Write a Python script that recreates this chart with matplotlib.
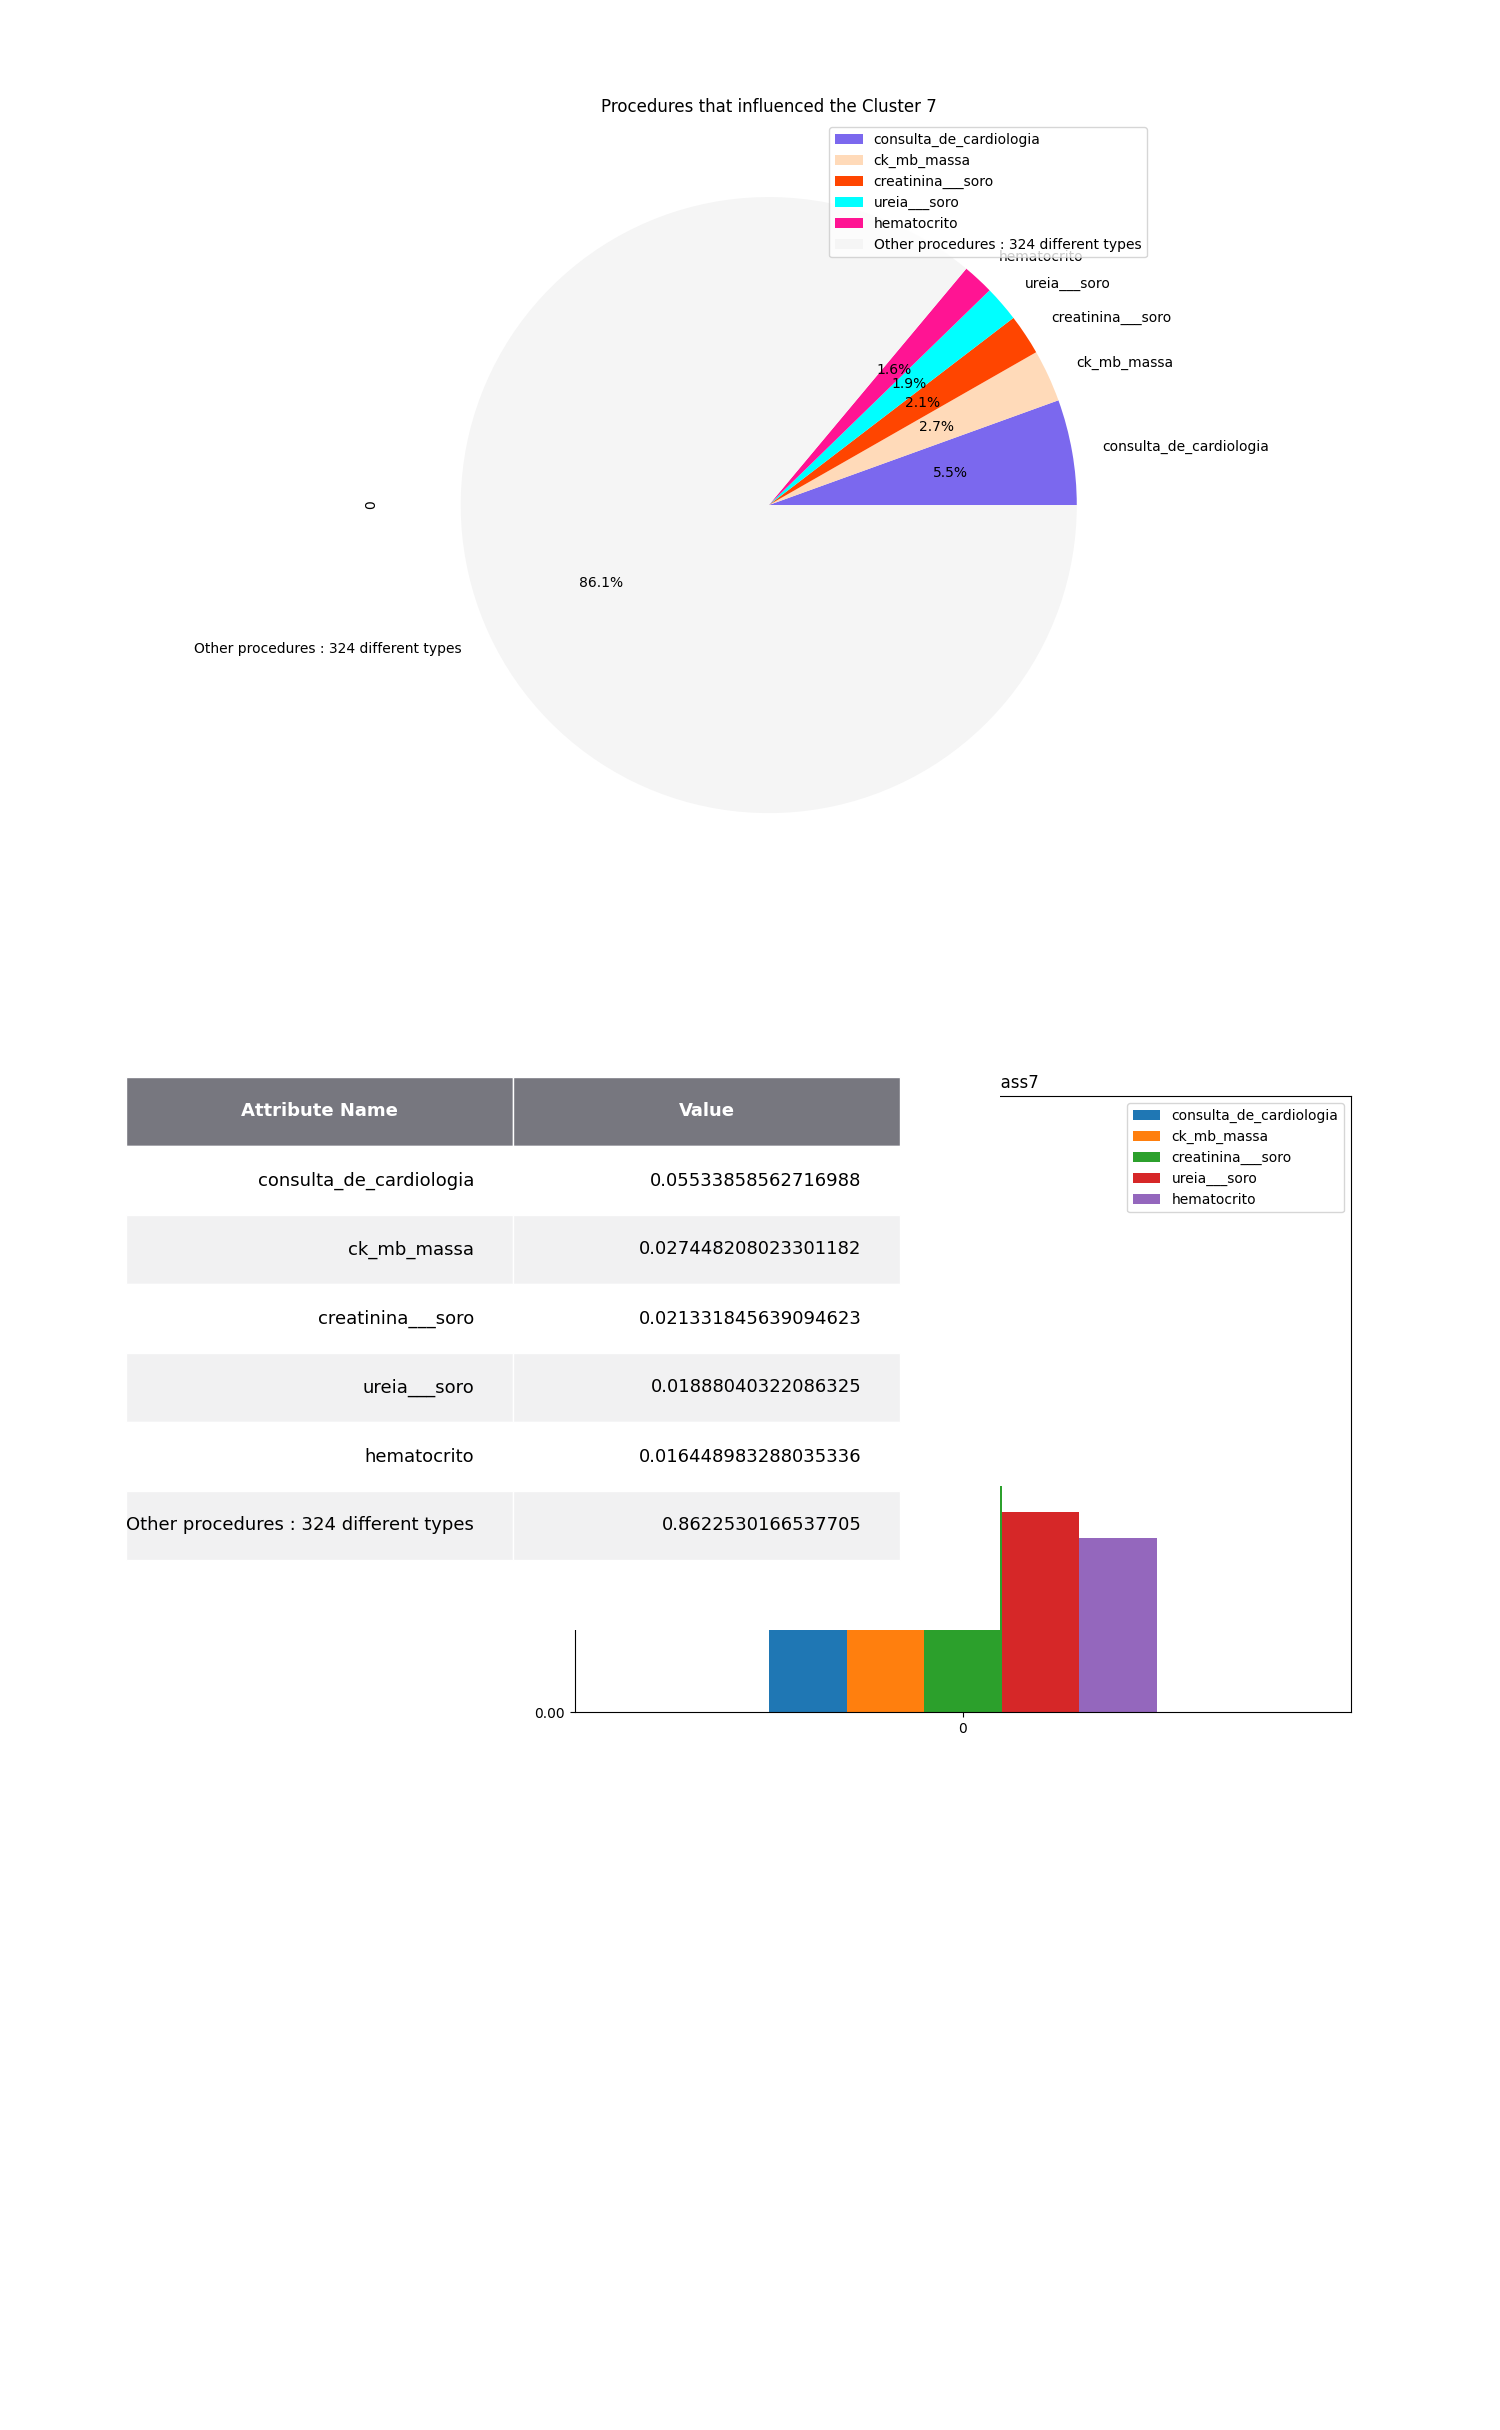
import numpy as np
import matplotlib
matplotlib.use("Agg")
import matplotlib.pyplot as plt
from matplotlib import font_manager

# cluster 7 - procedure shares
procedures = ["consulta_de_cardiologia", "ck_mb_massa", "creatinina___soro",
              "ureia___soro", "hematocrito", "Other procedures : 324 different types"]
shares = [0.05533858562716988, 0.027448208023301182, 0.021331845639094623,
          0.01888040322086325, 0.016448983288035336, 0.8622530166537705]
pie_colors = ["mediumslateblue", "peachpuff", "orangered", "cyan", "deeppink", "whitesmoke"]

top_attrs = procedures[:5]
top_values = shares[:5]

table_header = ["Attribute Name", "Value"]
header_color = "#77777f"
row_colors = ["#f1f1f2", "w"]

names = {f.name for f in font_manager.fontManager.ttflist}
if "Liberation Sans Narrow" in names:
    table_font, table_size = "Liberation Sans Narrow", 18
else:
    table_font, table_size = "DejaVu Sans", 13

fig = plt.figure(figsize=(15, 24.3), dpi=100)

# pie
ax1 = fig.add_axes([0.125, 0.6337, 0.775, 0.3169])
wedges, texts, autotexts = ax1.pie(shares, labels=procedures, colors=pie_colors,
                                   autopct="%1.1f%%")
ax1.set_aspect("equal")
ax1.set_ylabel("0")
ax1.set_title("Procedures that influenced the Cluster 7")
ax1.legend(wedges, procedures, loc="upper right")

# bars
ax2 = fig.add_axes([0.3833, 1 - 1712 / 2430, 0.5173, 616 / 2430])
n = len(top_values)
w = 0.5 / n
for i, (name, v) in enumerate(zip(top_attrs, top_values)):
    ax2.bar(-0.25 + w / 2 + i * w, v, width=w, color="C%d" % i, label=name)
ax2.set_xlim(-0.5, 0.5)
ax2.set_xticks([0])
ax2.set_xticklabels(["0"])
ax2.set_title("Attribute of class7")
ax2.legend(loc="upper right")

# table (drawn on a white panel over the bar chart)
ax3 = fig.add_axes([100 / 1500, 1 - 1630 / 2430, 900 / 1500, 590 / 2430])
ax3.set_facecolor("white")
ax3.set_xticks([])
ax3.set_yticks([])
for s in ax3.spines.values():
    s.set_visible(False)

cell_text = [[p, repr(float(v))] for p, v in zip(procedures, shares)]
tab = ax3.table(cellText=cell_text, colLabels=table_header,
                bbox=[26 / 900, 70 / 590, 774 / 900, 483 / 590])
tab.auto_set_font_size(False)
tab.set_fontsize(table_size)
for (r, c), cell in tab.get_celld().items():
    cell.set_edgecolor("w")
    cell.get_text().set_fontfamily(table_font)
    if r == 0:
        cell.set_text_props(weight="bold", color="w")
        cell.set_facecolor(header_color)
    else:
        cell.set_facecolor(row_colors[r % len(row_colors)])

fig.savefig("out.png", dpi=100)
